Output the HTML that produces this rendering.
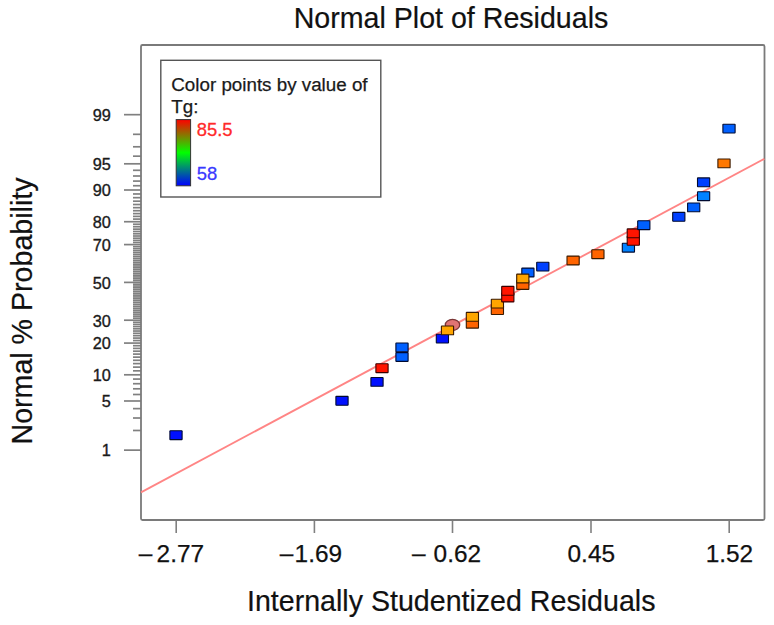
<!DOCTYPE html>
<html><head><meta charset="utf-8">
<style>
html,body{margin:0;padding:0;background:#fff;}
svg{display:block;}
text{font-family:"Liberation Sans",sans-serif;}
</style></head>
<body>
<svg width="774" height="625" viewBox="0 0 774 625">
<rect x="0" y="0" width="774" height="625" fill="#fff"/>
<text x="451" y="28.4" font-size="28.6" text-anchor="middle" fill="#111" stroke="#111" stroke-width="0.2">Normal Plot of Residuals</text>
<text transform="translate(32,311) rotate(-90)" font-size="28.6" text-anchor="middle" fill="#111" stroke="#111" stroke-width="0.2">Normal % Probability</text>
<text x="451.2" y="610.6" font-size="28.6" text-anchor="middle" fill="#111" stroke="#111" stroke-width="0.2">Internally Studentized Residuals</text>
<g stroke="#808080" stroke-width="1.7">
<line x1="124" y1="450.13" x2="141" y2="450.13"/>
<line x1="133" y1="430.48" x2="141" y2="430.48"/>
<line x1="133" y1="418.01" x2="141" y2="418.01"/>
<line x1="133" y1="408.62" x2="141" y2="408.62"/>
<line x1="124" y1="400.99" x2="141" y2="400.99"/>
<line x1="133" y1="394.50" x2="141" y2="394.50"/>
<line x1="133" y1="388.80" x2="141" y2="388.80"/>
<line x1="133" y1="383.71" x2="141" y2="383.71"/>
<line x1="133" y1="379.07" x2="141" y2="379.07"/>
<line x1="124" y1="374.80" x2="141" y2="374.80"/>
<line x1="133" y1="370.83" x2="141" y2="370.83"/>
<line x1="133" y1="367.12" x2="141" y2="367.12"/>
<line x1="133" y1="363.61" x2="141" y2="363.61"/>
<line x1="133" y1="360.29" x2="141" y2="360.29"/>
<line x1="133" y1="357.13" x2="141" y2="357.13"/>
<line x1="133" y1="354.10" x2="141" y2="354.10"/>
<line x1="133" y1="351.20" x2="141" y2="351.20"/>
<line x1="133" y1="348.40" x2="141" y2="348.40"/>
<line x1="133" y1="345.70" x2="141" y2="345.70"/>
<line x1="124" y1="343.08" x2="141" y2="343.08"/>
<line x1="133" y1="340.54" x2="141" y2="340.54"/>
<line x1="133" y1="338.08" x2="141" y2="338.08"/>
<line x1="133" y1="335.67" x2="141" y2="335.67"/>
<line x1="133" y1="333.32" x2="141" y2="333.32"/>
<line x1="133" y1="331.03" x2="141" y2="331.03"/>
<line x1="133" y1="328.79" x2="141" y2="328.79"/>
<line x1="133" y1="326.58" x2="141" y2="326.58"/>
<line x1="133" y1="324.42" x2="141" y2="324.42"/>
<line x1="133" y1="322.30" x2="141" y2="322.30"/>
<line x1="124" y1="320.21" x2="141" y2="320.21"/>
<line x1="133" y1="318.15" x2="141" y2="318.15"/>
<line x1="133" y1="316.12" x2="141" y2="316.12"/>
<line x1="133" y1="314.12" x2="141" y2="314.12"/>
<line x1="133" y1="312.14" x2="141" y2="312.14"/>
<line x1="133" y1="310.18" x2="141" y2="310.18"/>
<line x1="133" y1="308.24" x2="141" y2="308.24"/>
<line x1="133" y1="306.33" x2="141" y2="306.33"/>
<line x1="133" y1="304.43" x2="141" y2="304.43"/>
<line x1="133" y1="302.54" x2="141" y2="302.54"/>
<line x1="133" y1="300.67" x2="141" y2="300.67"/>
<line x1="133" y1="298.81" x2="141" y2="298.81"/>
<line x1="133" y1="296.96" x2="141" y2="296.96"/>
<line x1="133" y1="295.12" x2="141" y2="295.12"/>
<line x1="133" y1="293.28" x2="141" y2="293.28"/>
<line x1="133" y1="291.46" x2="141" y2="291.46"/>
<line x1="133" y1="289.64" x2="141" y2="289.64"/>
<line x1="133" y1="287.83" x2="141" y2="287.83"/>
<line x1="133" y1="286.02" x2="141" y2="286.02"/>
<line x1="133" y1="284.21" x2="141" y2="284.21"/>
<line x1="124" y1="282.40" x2="141" y2="282.40"/>
<line x1="133" y1="280.59" x2="141" y2="280.59"/>
<line x1="133" y1="278.78" x2="141" y2="278.78"/>
<line x1="133" y1="276.97" x2="141" y2="276.97"/>
<line x1="133" y1="275.16" x2="141" y2="275.16"/>
<line x1="133" y1="273.34" x2="141" y2="273.34"/>
<line x1="133" y1="271.52" x2="141" y2="271.52"/>
<line x1="133" y1="269.68" x2="141" y2="269.68"/>
<line x1="133" y1="267.84" x2="141" y2="267.84"/>
<line x1="133" y1="265.99" x2="141" y2="265.99"/>
<line x1="133" y1="264.13" x2="141" y2="264.13"/>
<line x1="133" y1="262.26" x2="141" y2="262.26"/>
<line x1="133" y1="260.37" x2="141" y2="260.37"/>
<line x1="133" y1="258.47" x2="141" y2="258.47"/>
<line x1="133" y1="256.56" x2="141" y2="256.56"/>
<line x1="133" y1="254.62" x2="141" y2="254.62"/>
<line x1="133" y1="252.66" x2="141" y2="252.66"/>
<line x1="133" y1="250.68" x2="141" y2="250.68"/>
<line x1="133" y1="248.68" x2="141" y2="248.68"/>
<line x1="133" y1="246.65" x2="141" y2="246.65"/>
<line x1="124" y1="244.59" x2="141" y2="244.59"/>
<line x1="133" y1="242.50" x2="141" y2="242.50"/>
<line x1="133" y1="240.38" x2="141" y2="240.38"/>
<line x1="133" y1="238.22" x2="141" y2="238.22"/>
<line x1="133" y1="236.01" x2="141" y2="236.01"/>
<line x1="133" y1="233.77" x2="141" y2="233.77"/>
<line x1="133" y1="231.48" x2="141" y2="231.48"/>
<line x1="133" y1="229.13" x2="141" y2="229.13"/>
<line x1="133" y1="226.72" x2="141" y2="226.72"/>
<line x1="133" y1="224.26" x2="141" y2="224.26"/>
<line x1="124" y1="221.72" x2="141" y2="221.72"/>
<line x1="133" y1="219.10" x2="141" y2="219.10"/>
<line x1="133" y1="216.40" x2="141" y2="216.40"/>
<line x1="133" y1="213.60" x2="141" y2="213.60"/>
<line x1="133" y1="210.70" x2="141" y2="210.70"/>
<line x1="133" y1="207.67" x2="141" y2="207.67"/>
<line x1="133" y1="204.51" x2="141" y2="204.51"/>
<line x1="133" y1="201.19" x2="141" y2="201.19"/>
<line x1="133" y1="197.68" x2="141" y2="197.68"/>
<line x1="133" y1="193.97" x2="141" y2="193.97"/>
<line x1="124" y1="190.00" x2="141" y2="190.00"/>
<line x1="133" y1="185.73" x2="141" y2="185.73"/>
<line x1="133" y1="181.09" x2="141" y2="181.09"/>
<line x1="133" y1="176.00" x2="141" y2="176.00"/>
<line x1="133" y1="170.30" x2="141" y2="170.30"/>
<line x1="124" y1="163.81" x2="141" y2="163.81"/>
<line x1="133" y1="156.18" x2="141" y2="156.18"/>
<line x1="133" y1="146.79" x2="141" y2="146.79"/>
<line x1="133" y1="134.32" x2="141" y2="134.32"/>
<line x1="124" y1="114.67" x2="141" y2="114.67"/>
</g>
<g font-size="16.3" text-anchor="end" fill="#1a1a1a" stroke="#1a1a1a" stroke-width="0.35">
<text x="110.9" y="121.0">99</text>
<text x="110.9" y="170.1">95</text>
<text x="110.9" y="196.3">90</text>
<text x="110.9" y="228.0">80</text>
<text x="110.9" y="250.9">70</text>
<text x="110.9" y="288.7">50</text>
<text x="110.9" y="326.5">30</text>
<text x="110.9" y="349.4">20</text>
<text x="110.9" y="381.1">10</text>
<text x="110.9" y="407.3">5</text>
<text x="110.9" y="456.4">1</text>
</g>
<g stroke="#808080" stroke-width="1.6">
<line x1="176.2" y1="520" x2="176.2" y2="533"/>
<line x1="314.4" y1="520" x2="314.4" y2="533"/>
<line x1="452.5" y1="520" x2="452.5" y2="533"/>
<line x1="591" y1="520" x2="591" y2="533"/>
<line x1="729.2" y1="520" x2="729.2" y2="533"/>
</g>
<g font-size="24.4" fill="#111" stroke="#111" stroke-width="0.25">
<text x="138.8" y="560.8">&#8211;</text><text x="156.6" y="561.8">2.77</text>
<text x="279.8" y="560.8">&#8211;</text><text x="294.6" y="561.8">1.69</text>
<text x="411.9" y="560.8">&#8211;</text><text x="433.6" y="561.8">0.62</text>
<text x="591.3" y="561.8" text-anchor="middle">0.45</text>
<text x="729.4" y="561.8" text-anchor="middle">1.52</text>
</g>
<rect x="141" y="45" width="623.5" height="475" fill="none" stroke="#7a7a7a" stroke-width="1.8" rx="1.5"/>
<line x1="141" y1="492.3" x2="764.4" y2="158.8" stroke="#ff8585" stroke-width="1.9"/>
<rect x="169.90" y="430.80" width="12.2" height="8.8" fill="#0010ff" stroke="#000a30" stroke-width="1.1" rx="0.4"/>
<rect x="335.90" y="396.40" width="12.2" height="8.8" fill="#0010ff" stroke="#000a30" stroke-width="1.1" rx="0.4"/>
<rect x="370.90" y="377.50" width="12.2" height="8.8" fill="#0010ff" stroke="#000a30" stroke-width="1.1" rx="0.4"/>
<rect x="375.90" y="363.80" width="12.2" height="8.8" fill="#ff1400" stroke="#3a0000" stroke-width="1.1" rx="0.4"/>
<rect x="395.90" y="352.60" width="12.2" height="8.8" fill="#0060ff" stroke="#000a30" stroke-width="1.1" rx="0.4"/>
<rect x="395.90" y="343.00" width="12.2" height="8.8" fill="#0060ff" stroke="#000a30" stroke-width="1.1" rx="0.4"/>
<rect x="436.30" y="334.20" width="12.2" height="8.8" fill="#0010ff" stroke="#000a30" stroke-width="1.1" rx="0.4"/>
<ellipse cx="452.5" cy="324.9" rx="7.2" ry="5.6" fill="#e07474" stroke="#7a3636" stroke-width="1.3"/>
<rect x="441.40" y="326.00" width="12.2" height="8.8" fill="#ffa500" stroke="#3a1a00" stroke-width="1.1" rx="0.4"/>
<rect x="466.30" y="319.30" width="12.2" height="8.8" fill="#ff6400" stroke="#3a1a00" stroke-width="1.1" rx="0.4"/>
<rect x="466.30" y="312.40" width="12.2" height="8.8" fill="#ffa500" stroke="#3a1a00" stroke-width="1.1" rx="0.4"/>
<rect x="491.30" y="305.70" width="12.2" height="8.8" fill="#ff6400" stroke="#3a1a00" stroke-width="1.1" rx="0.4"/>
<rect x="491.30" y="299.20" width="12.2" height="8.8" fill="#ffa500" stroke="#3a1a00" stroke-width="1.1" rx="0.4"/>
<rect x="501.70" y="293.10" width="12.2" height="8.8" fill="#ff1400" stroke="#3a0000" stroke-width="1.1" rx="0.4"/>
<rect x="501.70" y="286.40" width="12.2" height="8.8" fill="#ff1400" stroke="#3a0000" stroke-width="1.1" rx="0.4"/>
<rect x="521.80" y="268.10" width="12.2" height="8.8" fill="#0060ff" stroke="#000a30" stroke-width="1.1" rx="0.4"/>
<rect x="536.70" y="262.20" width="12.2" height="8.8" fill="#0040ff" stroke="#000a30" stroke-width="1.1" rx="0.4"/>
<rect x="516.70" y="280.60" width="12.2" height="8.8" fill="#ff6400" stroke="#3a1a00" stroke-width="1.1" rx="0.4"/>
<rect x="516.70" y="274.10" width="12.2" height="8.8" fill="#ffa500" stroke="#3a1a00" stroke-width="1.1" rx="0.4"/>
<rect x="567.00" y="256.10" width="12.2" height="8.8" fill="#ff6400" stroke="#3a1a00" stroke-width="1.1" rx="0.4"/>
<rect x="591.80" y="249.80" width="12.2" height="8.8" fill="#ff6400" stroke="#3a1a00" stroke-width="1.1" rx="0.4"/>
<rect x="622.30" y="243.30" width="12.2" height="8.8" fill="#0082ff" stroke="#000a30" stroke-width="1.1" rx="0.4"/>
<rect x="627.20" y="236.40" width="12.2" height="8.8" fill="#ff1400" stroke="#3a0000" stroke-width="1.1" rx="0.4"/>
<rect x="627.20" y="228.90" width="12.2" height="8.8" fill="#ff1400" stroke="#3a0000" stroke-width="1.1" rx="0.4"/>
<rect x="637.70" y="220.80" width="12.2" height="8.8" fill="#0060ff" stroke="#000a30" stroke-width="1.1" rx="0.4"/>
<rect x="672.70" y="212.40" width="12.2" height="8.8" fill="#0040ff" stroke="#000a30" stroke-width="1.1" rx="0.4"/>
<rect x="687.60" y="203.00" width="12.2" height="8.8" fill="#0060ff" stroke="#000a30" stroke-width="1.1" rx="0.4"/>
<rect x="697.50" y="191.80" width="12.2" height="8.8" fill="#0082ff" stroke="#000a30" stroke-width="1.1" rx="0.4"/>
<rect x="697.50" y="177.90" width="12.2" height="8.8" fill="#0040ff" stroke="#000a30" stroke-width="1.1" rx="0.4"/>
<rect x="717.90" y="159.00" width="12.2" height="8.8" fill="#ff7800" stroke="#3a1a00" stroke-width="1.1" rx="0.4"/>
<rect x="722.90" y="124.20" width="12.2" height="8.8" fill="#0060ff" stroke="#000a30" stroke-width="1.1" rx="0.4"/>
<rect x="160.8" y="60.3" width="220" height="136.7" fill="none" stroke="#555" stroke-width="1.4"/>
<text x="171.3" y="90.9" font-size="18.8" fill="#1a1a1a" stroke="#1a1a1a" stroke-width="0.25">Color points by value of</text>
<text x="171.3" y="113.3" font-size="18.8" fill="#1a1a1a" stroke="#1a1a1a" stroke-width="0.25">Tg:</text>
<defs><linearGradient id="cb" x1="0" y1="0" x2="0" y2="1">
<stop offset="0" stop-color="#ff0000"/><stop offset="0.5" stop-color="#00ff00"/><stop offset="1" stop-color="#0000ff"/>
</linearGradient></defs>
<rect x="176.2" y="119.6" width="14.4" height="66.2" fill="url(#cb)" stroke="#333" stroke-width="1"/>
<text x="196.8" y="135.5" font-size="18.4" fill="#ff2a2a" stroke="#ff2a2a" stroke-width="0.3">85.5</text>
<text x="196.8" y="180.3" font-size="18.4" fill="#3a3aff" stroke="#3a3aff" stroke-width="0.3">58</text>
</svg>
</body></html>
